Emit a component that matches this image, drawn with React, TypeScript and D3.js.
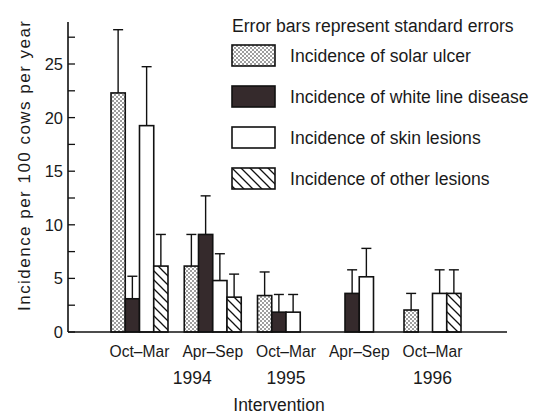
import React from 'react';
import * as d3 from 'd3';

// chart data
const periods = ['Oct–Mar', 'Apr–Sep', 'Oct–Mar', 'Apr–Sep', 'Oct–Mar'];
const years = ['1994', '1995', '1996'];

const seriesNames = [
  'Incidence of solar ulcer',
  'Incidence of white line disease',
  'Incidence of skin lesions',
  'Incidence of other lesions',
];

// null = no bar in that period
const solarUlcer = [22.3, 6.15, 3.4, null, 2.05];
const solarUlcerSE = [5.9, 2.95, 2.2, null, 1.55];
const whiteLine = [3.1, 9.1, 1.85, 3.6, null];
const whiteLineSE = [2.1, 3.6, 1.65, 2.2, null];
const skinLesions = [19.25, 4.8, 1.85, 5.15, 3.6];
const skinLesionsSE = [5.5, 2.5, 1.65, 2.65, 2.2];
const otherLesions = [6.15, 3.25, null, null, 3.6];
const otherLesionsSE = [2.95, 2.15, null, null, 2.2];

const values = [solarUlcer, whiteLine, skinLesions, otherLesions];
const errors = [solarUlcerSE, whiteLineSE, skinLesionsSE, otherLesionsSE];

const W = 535;
const H = 416;
const axisX = 68;
const axisRight = 507;
const font = "'Liberation Sans', Arial, Helvetica, sans-serif";
const fills = ['url(#dots)', '#352a2c', '#ffffff', 'url(#hatch)'];

// where the year labels sit, as a fraction along the period centres
const yearAnchor = [0.72, 2, 4];

export default function App() {
  const y = d3.scaleLinear().domain([0, 25]).range([332, 64]);

  const x = d3
    .scaleBand<number>()
    .domain(d3.range(periods.length))
    .range([111, 461])
    .paddingInner(0.222)
    .paddingOuter(0);

  const inner = d3
    .scaleBand<number>()
    .domain(d3.range(seriesNames.length))
    .range([0, x.bandwidth()]);

  const centre = (i: number) => {
    const lo = Math.floor(i);
    const frac = i - lo;
    const c = (k: number) => (x(k) as number) + x.bandwidth() / 2;
    return lo + 1 < periods.length ? c(lo) + (c(lo + 1) - c(lo)) * frac : c(lo);
  };

  const majorTicks = d3.range(0, 26, 5);
  const minorTicks = d3.range(2.5, 28, 5);

  return (
    <svg
      width={W}
      height={H}
      style={{ position: 'absolute', left: 0, top: 0, background: '#fff' }}
      fontFamily={font}
    >
      <defs>
        <pattern id="dots" width={4} height={4} patternUnits="userSpaceOnUse">
          <rect width={4} height={4} fill="#fff" />
          <circle cx={1} cy={1} r={0.8} fill="#222" />
          <circle cx={3} cy={3} r={0.8} fill="#222" />
        </pattern>
        <pattern id="hatch" width={9} height={9} patternUnits="userSpaceOnUse">
          <rect width={9} height={9} fill="#fff" />
          <path d="M0,0 L9,9 M-1,8 L1,10 M8,-1 L10,1" stroke="#111" strokeWidth={1.3} />
        </pattern>
      </defs>

      {/* bars */}
      {values.map((vals, s) =>
        vals.map((v, g) => {
          if (v == null) return null;
          const bx = (x(g) as number) + (inner(s) as number);
          const bw = inner.bandwidth();
          const e = errors[s][g] as number;
          const cx = bx + bw / 2;
          return (
            <g key={`${s}-${g}`}>
              <line x1={cx} x2={cx} y1={y(v)} y2={y(v + e)} stroke="#111" strokeWidth={1.4} />
              <line x1={cx - 5} x2={cx + 5} y1={y(v + e)} y2={y(v + e)} stroke="#111" strokeWidth={1.4} />
              <rect
                x={bx}
                y={y(v)}
                width={bw}
                height={y(0) - y(v)}
                fill={fills[s]}
                stroke="#111"
                strokeWidth={1.6}
              />
            </g>
          );
        })
      )}

      {/* axes */}
      <line x1={axisX} x2={axisX} y1={y(0)} y2={22} stroke="#111" strokeWidth={1.6} />
      <line x1={axisX} x2={axisRight} y1={y(0)} y2={y(0)} stroke="#111" strokeWidth={1.6} />
      {majorTicks.concat(minorTicks).map(t => (
        <line key={t} x1={axisX} x2={axisX + 7} y1={y(t)} y2={y(t)} stroke="#111" strokeWidth={1.3} />
      ))}
      {majorTicks.map(t => (
        <text key={t} x={63} y={y(t)} dy="0.36em" textAnchor="end" fontSize={16.5} fill="#1a1a1a">
          {t}
        </text>
      ))}

      <text
        transform={`translate(30,166) rotate(-90)`}
        textAnchor="middle"
        fontSize={17}
        textLength={290}
        lengthAdjust="spacing"
        fill="#1a1a1a"
      >
        Incidence per 100 cows per year
      </text>

      {/* category labels */}
      {periods.map((p, i) => (
        <text key={i} x={centre(i)} y={357} textAnchor="middle" fontSize={15.6} fill="#1a1a1a">
          {p}
        </text>
      ))}
      {years.map((yr, i) => (
        <text key={yr} x={centre(yearAnchor[i])} y={384} textAnchor="middle" fontSize={17.5} fill="#1a1a1a">
          {yr}
        </text>
      ))}
      <text x={279} y={411} textAnchor="middle" fontSize={17.5} fill="#1a1a1a">
        Intervention
      </text>

      {/* legend */}
      <text x={232} y={32} fontSize={17.6} fill="#1a1a1a">
        Error bars represent standard errors
      </text>
      {seriesNames.map((name, i) => (
        <g key={name} transform={`translate(232,${45 + i * 41})`}>
          <rect width={43} height={21} fill={fills[i]} stroke="#111" strokeWidth={1.6} />
          <text x={58} y={10.5} dy="0.36em" fontSize={17.6} fill="#1a1a1a">
            {name}
          </text>
        </g>
      ))}
    </svg>
  );
}
